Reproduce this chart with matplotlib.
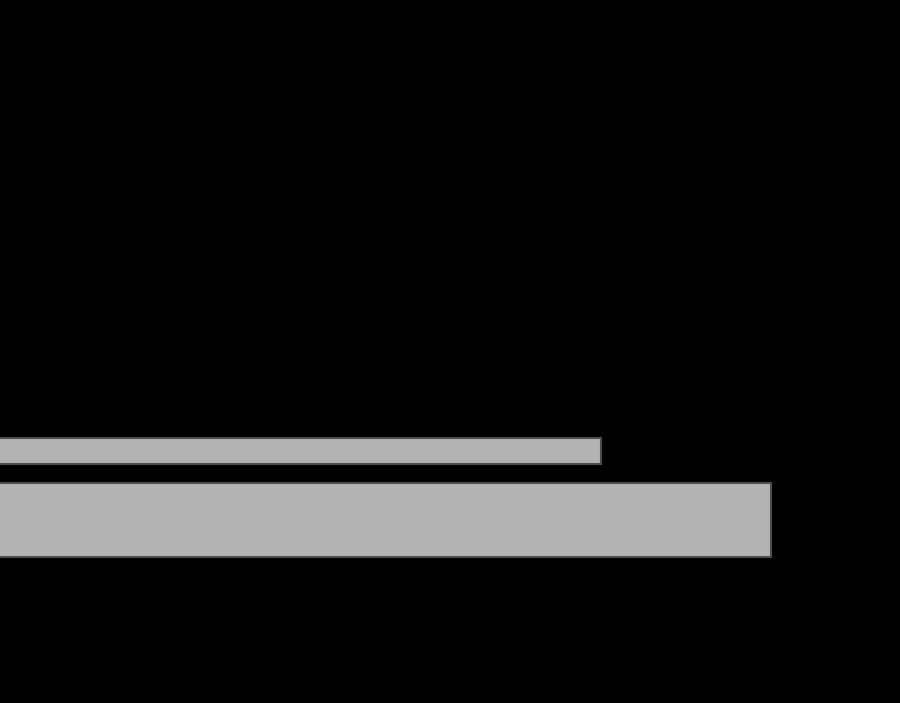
import matplotlib
matplotlib.use('Agg')
import matplotlib.pyplot as plt

# two bars, everything else in the picture is black
labels = ["a", "b"]
values = [78.2, 100]
heights = [0.37, 1.07]

fig = plt.figure(figsize=(9, 7.03), dpi=100, facecolor="black")
ax = fig.add_axes([0, 0, 1, 1])
ax.set_facecolor("black")

ax.barh([0, 1], values, height=heights, color="#b3b3b3",
        edgecolor="#4d4d4d", linewidth=1.5)

ax.set_xlim(0.8, 100 * 900 / 771.5)
ax.set_ylim(3.636, -6.514)
ax.axis("off")

fig.savefig("out.png", facecolor="black")
